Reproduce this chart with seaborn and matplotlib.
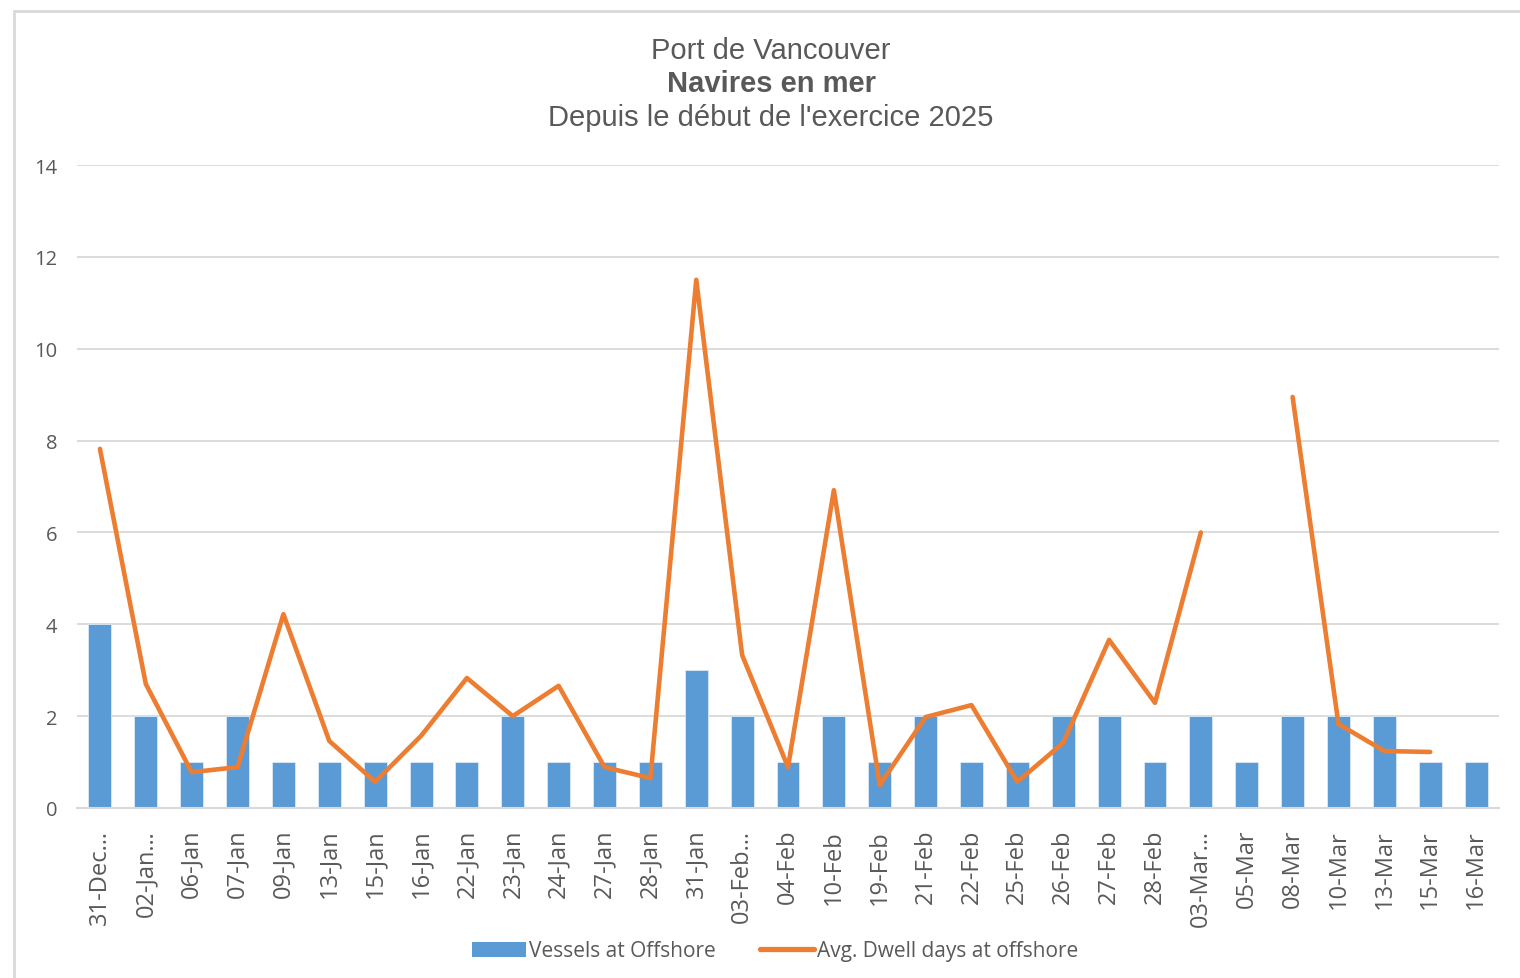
import numpy as np
import pandas as pd
import matplotlib
matplotlib.use("Agg")
import matplotlib.pyplot as plt
import seaborn as sns
from matplotlib.lines import Line2D
from matplotlib.patches import Patch

dates = ["31-Dec…", "02-Jan…", "06-Jan", "07-Jan", "09-Jan", "13-Jan", "15-Jan",
         "16-Jan", "22-Jan", "23-Jan", "24-Jan", "27-Jan", "28-Jan", "31-Jan",
         "03-Feb…", "04-Feb", "10-Feb", "19-Feb", "21-Feb", "22-Feb", "25-Feb",
         "26-Feb", "27-Feb", "28-Feb", "03-Mar…", "05-Mar", "08-Mar", "10-Mar",
         "13-Mar", "15-Mar", "16-Mar"]
vessels = [4, 2, 1, 2, 1, 1, 1, 1, 1, 2, 1, 1, 1, 3, 2, 1, 2, 1, 2, 1, 1, 2, 2, 1,
           2, 1, 2, 2, 2, 1, 1]
dwell = [7.82, 2.7, 0.78, 0.89, 4.22, 1.46, 0.57, 1.57, 2.83, 2.0, 2.66, 0.89, 0.65,
         11.5, 3.33, 0.89, 6.92, 0.5, 1.98, 2.24, 0.57, 1.42, 3.66, 2.29, 6.0,
         np.nan, 8.95, 1.83, 1.24, 1.22, np.nan]

df = pd.DataFrame({"Date": dates, "Vessels": vessels, "Dwell": dwell})

sns.set_theme(style="white")
plt.rcParams["font.family"] = ["Liberation Sans", "DejaVu Sans"]

text_col = "#595959"
blue = "#5B9BD5"
orange = "#ED7D31"

fig = plt.figure(figsize=(15.2, 9.79), dpi=100)
ax = fig.add_axes([77 / 1520, 1 - 809 / 979, (1499 - 77) / 1520, (809 - 166) / 979])

sns.barplot(data=df, x="Date", y="Vessels", color=blue, width=0.5, saturation=1,
            edgecolor="#DCE9F5", linewidth=0.6, ax=ax, zorder=2)
# line breaks where there is no dwell value (NaN)
ax.plot(np.arange(len(df)), df["Dwell"], color=orange, lw=3.3,
        solid_capstyle="round", solid_joinstyle="round", zorder=3)

ax.set_ylim(0, 14)
ax.set_yticks(range(0, 15, 2))
ax.set_xlim(-0.5, len(df) - 0.5)
ax.yaxis.grid(True, color="#D9D9D9", lw=1.3, zorder=0)
ax.set_axisbelow(True)
for s in ["top", "right", "left"]:
    ax.spines[s].set_visible(False)
ax.spines["bottom"].set_color("#D9D9D9")
ax.spines["bottom"].set_linewidth(1.5)
ax.set_xlabel("")
ax.set_ylabel("")
ax.tick_params(axis="both", length=0, colors=text_col)
ax.tick_params(axis="y", labelsize=14.5, pad=14)
ax.tick_params(axis="x", labelsize=17, pad=15)
ax.set_xticks(range(len(df)))
ax.set_xticklabels(dates, rotation=90, fontfamily=["Open Sans", "DejaVu Sans"])
for lab in ax.get_yticklabels():
    lab.set_fontfamily("Open Sans")

# title block
cx = 771 / 1520
fig.text(cx, 1 - 51 / 979, "Port de Vancouver", ha="center", va="center",
         fontsize=21, color=text_col)
fig.text(cx, 1 - 84 / 979, "Navires en mer", ha="center", va="center",
         fontsize=21, color=text_col, fontweight="bold")
fig.text(cx, 1 - 118 / 979, "Depuis le début de l'exercice 2025", ha="center",
         va="center", fontsize=21, color=text_col)

handles = [Patch(facecolor=blue, edgecolor="none"),
           Line2D([0], [0], color=orange, lw=3.8, solid_capstyle="round")]
leg = fig.legend(handles, ["Vessels at Offshore", "Avg. Dwell days at offshore"],
                 loc="center", bbox_to_anchor=(775 / 1520, 1 - 952 / 979), ncol=2,
                 frameon=False, handlelength=2.6, handleheight=0.7,
                 handletextpad=0.15, columnspacing=2.1,
                 prop={"family": "Open Sans", "size": 15})
for t in leg.get_texts():
    t.set_color(text_col)

# chart-area border
fig.add_artist(Line2D([14 / 1520, 14 / 1520], [0, 1 - 12 / 979], color="#D9D9D9",
                      lw=2, transform=fig.transFigure))
fig.add_artist(Line2D([14 / 1520, 1], [1 - 12 / 979, 1 - 12 / 979], color="#D9D9D9",
                      lw=2, transform=fig.transFigure))

fig.savefig("out.png", dpi=100)
